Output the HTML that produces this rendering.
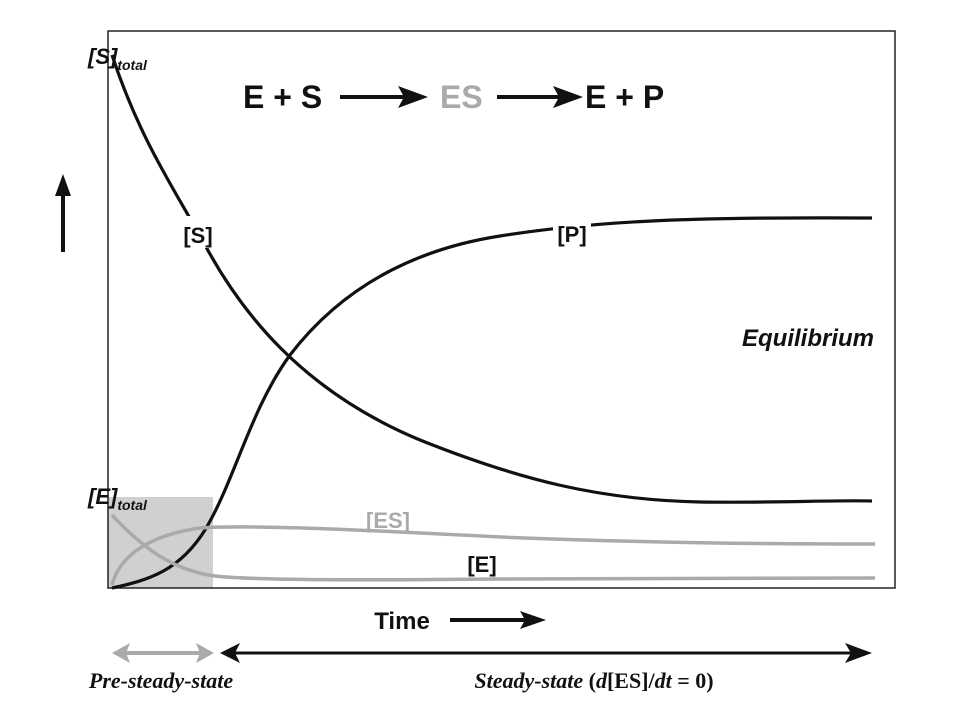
<!DOCTYPE html>
<html><head><meta charset="utf-8"><style>body{margin:0;background:#fff}</style></head><body>
<svg width="960" height="720" xmlns="http://www.w3.org/2000/svg" font-family="Liberation Sans, sans-serif">
<rect x="108" y="497" width="105" height="91" fill="#d0d0d2"/>
<rect x="108" y="31" width="787" height="557" fill="none" stroke="#222" stroke-width="1.5"/>
<path d="M112,55 C140,140 175,190 205,245 C240,310 300,390 420,440 C520,480 600,500 700,502 C780,503 830,500 872,501" fill="none" stroke="#111" stroke-width="3.2"/>
<path d="M112,588 C150,580 180,570 205,530 C235,480 250,410 290,355 C340,290 410,250 500,236 C600,220 700,217 872,218" fill="none" stroke="#111" stroke-width="3.2"/>
<path d="M112,585 C120,555 150,535 200,528 C260,524 400,532 500,537 C650,543 760,544 875,544" fill="none" stroke="#aaa" stroke-width="3.5"/>
<path d="M112,515 C140,545 170,570 215,576 C260,581 400,580 500,579 C700,578 800,578 875,578" fill="none" stroke="#aaa" stroke-width="3.5"/>
<rect x="180" y="216" width="36" height="32" fill="#fff"/>
<rect x="553" y="216" width="38" height="32" fill="#fff"/>
<text x="198" y="243" font-size="22" font-weight="bold" text-anchor="middle" fill="#111">[S]</text>
<text x="572" y="242" font-size="22" font-weight="bold" text-anchor="middle" fill="#111">[P]</text>
<text x="388" y="528" font-size="22" font-weight="bold" text-anchor="middle" fill="#aaa">[ES]</text>
<text x="482" y="572" font-size="22" font-weight="bold" text-anchor="middle" fill="#111">[E]</text>
<text x="808" y="346" font-size="24" font-weight="bold" font-style="italic" text-anchor="middle" fill="#111">Equilibrium</text>
<text x="88" y="64" font-size="22" font-weight="bold" font-style="italic" fill="#111">[S]<tspan font-size="14" dy="6">total</tspan></text>
<text x="88" y="504" font-size="22" font-weight="bold" font-style="italic" fill="#111">[E]<tspan font-size="14" dy="6">total</tspan></text>
<g font-size="32" font-weight="bold">
<text x="243" y="108" fill="#111">E + S</text>
<text x="440" y="108" fill="#aaa">ES</text>
<text x="585" y="108" fill="#111">E + P</text>
</g>
<line x1="340" y1="97" x2="405" y2="97" stroke="#111" stroke-width="4"/>
<polygon points="398,86 428,97 398,108 404,97" fill="#111"/>
<line x1="497" y1="97" x2="560" y2="97" stroke="#111" stroke-width="4"/>
<polygon points="553,86 583,97 553,108 559,97" fill="#111"/>
<line x1="63" y1="252" x2="63" y2="190" stroke="#111" stroke-width="4"/>
<polygon points="55,196 63,174 71,196" fill="#111"/>
<text x="402" y="629" font-size="24" font-weight="bold" text-anchor="middle" fill="#111">Time</text>
<line x1="450" y1="620" x2="528" y2="620" stroke="#111" stroke-width="4"/>
<polygon points="520,611 546,620 520,629 525,620" fill="#111"/>
<line x1="122" y1="653" x2="203" y2="653" stroke="#aaa" stroke-width="4"/>
<polygon points="112,653 130,643 126,653 130,663" fill="#aaa"/>
<polygon points="214,653 196,643 200,653 196,663" fill="#aaa"/>
<line x1="232" y1="653" x2="860" y2="653" stroke="#111" stroke-width="3"/>
<polygon points="220,653 240,643 235,653 240,663" fill="#111"/>
<polygon points="872,653 845,643 851,653 845,663" fill="#111"/>
<g font-family="Liberation Serif, serif" font-weight="bold" font-size="22" fill="#111">
<text x="161" y="688" text-anchor="middle" font-style="italic">Pre-steady-state</text>
<text x="594" y="688" text-anchor="middle"><tspan font-style="italic">Steady-state</tspan> (<tspan font-style="italic">d</tspan>[ES]/<tspan font-style="italic">dt</tspan> = 0)</text>
</g>
</svg>
</body></html>
